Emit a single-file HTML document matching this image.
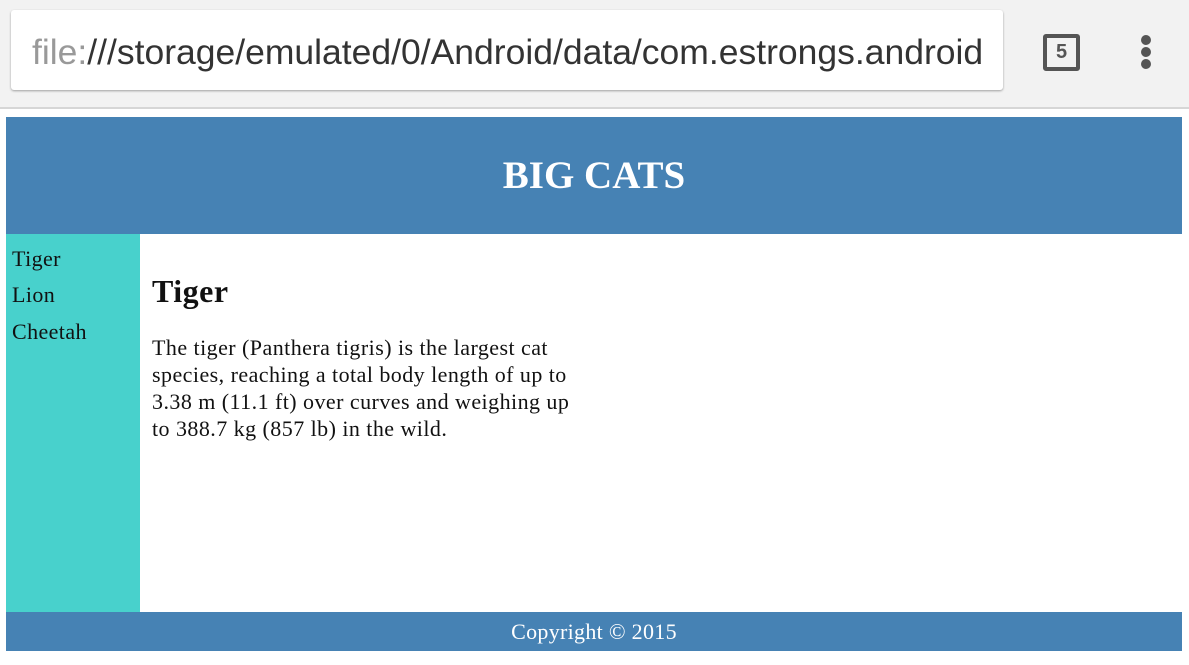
<!DOCTYPE html>
<html><head><meta charset="utf-8"><style>
body{margin:0;width:1189px;height:665px;background:#fff;position:relative;overflow:hidden;font-family:"Liberation Serif",serif}
#bar{position:absolute;left:0;top:0;width:1189px;height:107px;background:#f2f2f2;border-bottom:2px solid #d6d6d6}
#url{position:absolute;left:11px;top:10px;width:992px;height:80px;background:#fff;border-radius:3px;box-shadow:0 1px 2px rgba(0,0,0,.35);font-family:"Liberation Sans",sans-serif;font-size:35.5px;line-height:84px;padding-left:21px;box-sizing:border-box;color:#333;white-space:nowrap;overflow:hidden}
#tabs{position:absolute;left:1043px;top:34px;width:29px;height:29px;border:4px solid #555;border-radius:3px;font-family:"Liberation Sans",sans-serif;font-weight:bold;font-size:20px;color:#555;text-align:center;line-height:29px}
.dot{position:absolute;left:1141px;width:10px;height:10px;border-radius:50%;background:#555}
#header{position:absolute;left:6px;top:117px;width:1176px;height:117px;background:#4682b4;color:#fff;font-weight:bold;font-size:39px;text-align:center;line-height:117px}
#side{position:absolute;left:6px;top:234px;width:134px;height:378px;background:#48d1cc}
.nav{position:absolute;left:6px;font-size:22px;letter-spacing:0.4px;color:#111}
#main{position:absolute;left:152px;top:270px;width:600px;color:#111}
h2{margin:0;font-size:32px;line-height:42px;letter-spacing:0.5px}
p{margin:22px 0 0;font-size:22px;line-height:27px;letter-spacing:0.45px;white-space:nowrap}
#footer{position:absolute;left:6px;top:612px;width:1176px;height:39px;background:#4682b4;color:#fff;font-size:22px;letter-spacing:0.3px;text-align:center;line-height:40px}
</style></head><body>
<div id="bar"></div>
<div id="url"><span style="color:#999">file:</span>///storage/emulated/0/Android/data/com.estrongs.android</div>
<div id="tabs">5</div>
<div class="dot" style="top:35px"></div>
<div class="dot" style="top:47px"></div>
<div class="dot" style="top:59px"></div>
<div id="header">BIG CATS</div>
<div id="side">
<div class="nav" style="top:12px">Tiger</div>
<div class="nav" style="top:48px">Lion</div>
<div class="nav" style="top:85px">Cheetah</div>
</div>
<div id="main">
<h2>Tiger</h2>
<p>The tiger (Panthera tigris) is the largest cat<br>species, reaching a total body length of up to<br>3.38 m (11.1 ft) over curves and weighing up<br>to 388.7 kg (857 lb) in the wild.</p>
</div>
<div id="footer">Copyright © 2015</div>
</body></html>
